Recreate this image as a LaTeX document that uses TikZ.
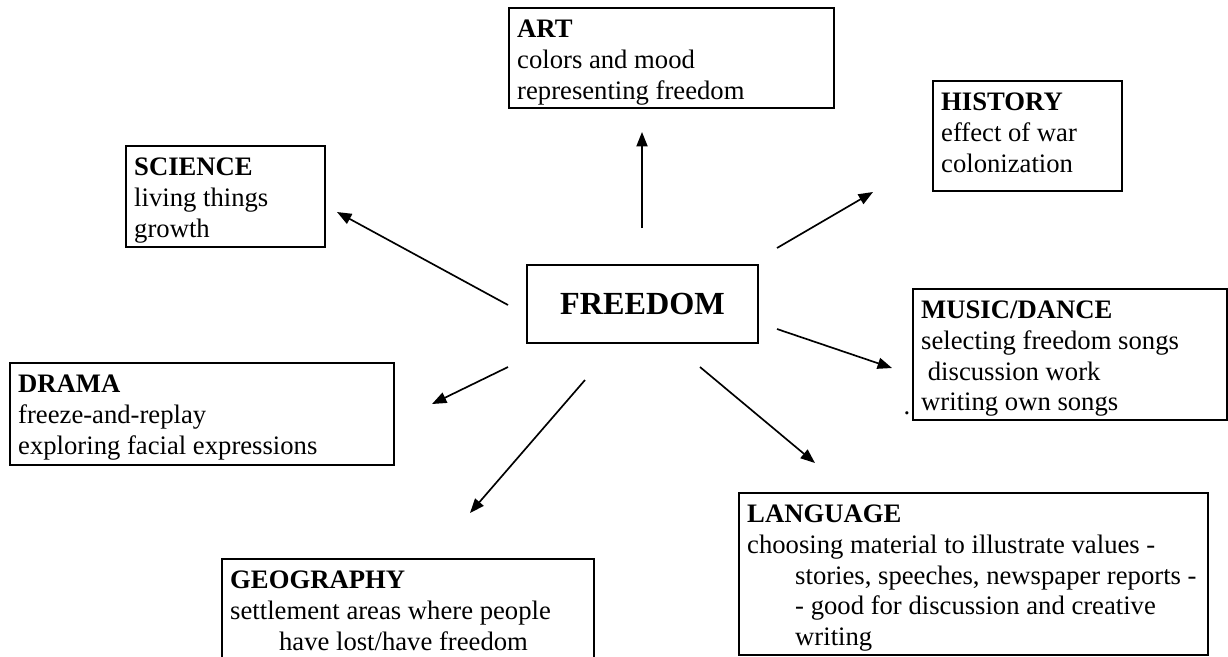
\documentclass[tikz,border=0pt]{standalone}
\usepackage{fontspec}
\setmainfont{Liberation Serif}
\usetikzlibrary{arrows.meta}
\newcommand{\bxc}[3]{\parbox[c][\dimexpr#2-7.2pt\relax][t]{\dimexpr#1-7.2pt\relax}{\raggedright\fontsize{12}{13.8}\selectfont\rule{0pt}{9.7pt}#3}}
\begin{document}
\begin{tikzpicture}[x=0.45pt,y=-0.45pt,
  box/.style={draw, line width=1.1pt, anchor=north west, inner sep=3.6pt},
  arr/.style={line width=0.75pt, -{Triangle[length=6.5pt,width=5pt]}}]
\useasboundingbox (0,0) rectangle (1228,656);
\clip (0,0) rectangle (1228,656);
\fill[white] (0,0) rectangle (1228,656);

\node[box] (art) at (508,7) {\bxc{146.25pt}{45pt}{\textbf{ART}\\colors and mood\\representing freedom}};
\node[box] (hist) at (932,80) {\bxc{85.05pt}{49.5pt}{\textbf{HISTORY}\\effect of war\\colonization}};
\node[box] (sci) at (125,145) {\bxc{89.55pt}{45.45pt}{\textbf{SCIENCE}\\living things\\growth}};
\node[draw, line width=1.1pt, minimum width=103.95pt, minimum height=35.1pt, inner sep=0pt,
      font=\fontsize{14.5}{16}\selectfont\bfseries] (free) at (642.5,304) {FREEDOM};
\node[box] (mus) at (912,288) {\bxc{141.3pt}{58.95pt}{\textbf{MUSIC/DANCE}\\selecting freedom songs\\\hspace*{3pt}discussion work\\writing own songs}};
\node[box] (drama) at (9,362) {\bxc{172.8pt}{45.9pt}{\textbf{DRAMA}\\freeze-and-replay\\exploring facial expressions}};
\node[box] (lang) at (738,492) {\bxc{211.05pt}{72.9pt}{\textbf{LANGUAGE}\\choosing material to illustrate values -\\\hspace*{21.6pt}stories, speeches, newspaper reports -\\\hspace*{21.6pt}- good for discussion and creative\\\hspace*{21.6pt}writing}};
\node[box] (geo) at (221,558) {\bxc{167.4pt}{50.4pt}{\textbf{GEOGRAPHY}\\settlement areas where people\\\hspace*{22pt}have lost/have freedom}};
\node[anchor=base, inner sep=0pt, font=\fontsize{12}{13.8}\selectfont] (dot) at (907,414) {.};

\coordinate (artT) at (642,228);   \coordinate (artH) at (642,132);
\coordinate (histT) at (777,248);  \coordinate (histH) at (873,192);
\coordinate (sciT) at (508,305);   \coordinate (sciH) at (337,212);
\coordinate (musT) at (777,329);   \coordinate (musH) at (892,368);
\coordinate (langT) at (700,367);  \coordinate (langH) at (815,463);
\coordinate (geoT) at (585,380);   \coordinate (geoH) at (470,513);
\coordinate (dramaT) at (508,367); \coordinate (dramaH) at (432,404);

\draw[arr] (artT) -- (artH);
\draw[arr] (histT) -- (histH);
\draw[arr] (sciT) -- (sciH);
\draw[arr] (musT) -- (musH);
\draw[arr] (langT) -- (langH);
\draw[arr] (geoT) -- (geoH);
\draw[arr] (dramaT) -- (dramaH);
\end{tikzpicture}
\end{document}
